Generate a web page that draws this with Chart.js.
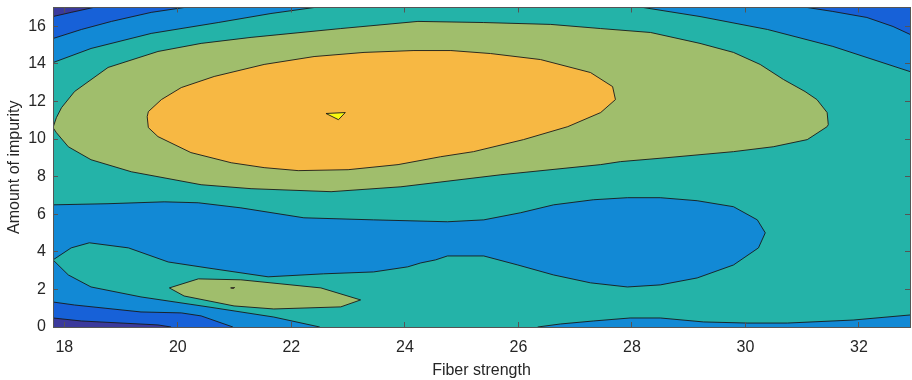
<!DOCTYPE html>
<html>
<head>
<meta charset="utf-8">
<script src="https://cdn.jsdelivr.net/npm/chart.js@4.4.0/dist/chart.umd.min.js"></script>
<style>
  html, body { margin: 0; padding: 0; background: #fff; }
  #cadre { width: 912px; height: 380px; }
</style>
</head>
<body>
<div id="cadre"><canvas id="graphique-contour"></canvas></div>
<script>
// Limites des axes et graduations
const xLimites = [17.8, 32.9];
const yLimites = [0, 17];
const xGraduations = [18, 20, 22, 24, 26, 28, 30, 32];
const yGraduations = [0, 2, 4, 6, 8, 10, 12, 14, 16];

// Contours : [fiber strength, amount of impurity]
// niveau 0 : fond (tout le cadre)
const niveau0 = [[17.8, 0], [32.9, 0], [32.9, 17], [17.8, 17]];

// niveau 1 : tout sauf les deux coins bleu nuit a gauche
const niveau1 = [
  [18.51, 17], [32.9, 17], [32.9, 0], [19.88, 0], [19.65, 0.11], [18.30, 0.32],
  [17.8, 0.48], [17.8, 16.52], [18.12, 16.74]
];

// niveau 2
const niveau2 = [
  [17.8, 15.35], [18.30, 15.83], [18.83, 16.26], [19.53, 16.74], [20.11, 17],
  [31.09, 17], [31.54, 16.79], [32.14, 16.47], [32.60, 15.99], [32.9, 15.57],
  [32.9, 0], [20.97, 0], [20.41, 0.59], [20.06, 0.75], [19.35, 0.80], [18.18, 1.17],
  [17.8, 1.33]
];

// niveau 3 (turquoise) : contourne la bande bleue du milieu
const niveau3 = [
  [17.8, 14.07], [18.47, 14.82], [19.53, 15.62], [20.71, 16.20], [21.64, 16.68], [22.40, 17],
  [28.20, 17], [29.20, 16.52], [30.39, 15.83], [31.54, 14.93], [32.9, 13.59],
  [32.9, 0.64], [31.90, 0.37], [30.74, 0.21], [30.03, 0.21], [29.26, 0.27], [28.50, 0.48],
  [27.97, 0.48], [27.32, 0.32], [26.74, 0.16], [26.34, 0],
  [22.50, 0], [21.69, 0.53], [20.53, 1.07], [19.35, 1.60], [18.47, 2.13], [18.07, 2.77],
  [17.8, 3.57],
  [18.12, 4.21], [18.44, 4.48], [19.13, 4.21], [19.83, 3.46], [20.53, 3.14], [21.59, 2.67],
  [22.57, 2.83], [23.45, 2.93], [24.05, 3.20], [24.28, 3.41], [24.54, 3.57], [24.75, 3.78],
  [25.39, 3.78], [25.99, 3.30], [26.62, 2.77], [27.27, 2.35], [27.92, 2.13], [28.50, 2.24],
  [29.15, 2.61], [29.79, 3.30], [30.23, 4.21], [30.35, 5.01], [30.21, 5.70], [29.79, 6.40],
  [29.15, 6.72], [28.50, 6.88], [27.92, 6.88], [27.32, 6.77], [26.62, 6.50], [26.04, 6.08],
  [25.39, 5.70], [24.75, 5.60], [23.45, 5.70], [22.22, 5.81], [21.11, 6.34], [20.36, 6.61],
  [19.76, 6.66], [18.77, 6.56], [17.8, 6.50]
];

// niveau 4 (vert) : grande ellipse + petit lobe en bas
const niveau4 = [
  [17.8, 10.61], [17.86, 11.14], [17.95, 11.67], [18.18, 12.53], [18.77, 13.81], [19.65, 14.66],
  [20.41, 15.09], [21.29, 15.41], [22.87, 15.88], [24.23, 16.26], [25.39, 16.20], [26.57, 16.10],
  [27.45, 15.88], [28.33, 15.67], [29.20, 15.09], [29.79, 14.61], [30.26, 13.97], [30.67, 13.17],
  [31.05, 12.53], [31.26, 12.10], [31.44, 11.41], [31.46, 10.77], [31.44, 10.66], [31.09, 9.97],
  [30.49, 9.59], [29.79, 9.33], [28.62, 9.01], [27.80, 8.80], [27.45, 8.64], [25.69, 8.10],
  [23.93, 7.46], [22.70, 7.20], [21.29, 7.36], [20.41, 7.57], [19.18, 8.26], [18.47, 8.90],
  [18.07, 9.59], [17.86, 10.34]
];
const niveau4Lobe = [
  [19.85, 2.08], [20.36, 2.56], [21.11, 2.51], [22.52, 2.08], [23.22, 1.44], [22.87, 1.07],
  [21.69, 0.96], [20.99, 1.12], [20.11, 1.65]
];

// niveau 5 (orange)
const niveau5 = [
  [19.46, 11.19], [19.48, 11.46], [19.71, 12.10], [20.06, 12.74], [20.64, 13.33], [21.52, 13.97],
  [22.40, 14.39], [23.28, 14.61], [24.16, 14.71], [24.81, 14.71], [25.51, 14.55], [26.39, 14.23],
  [27.27, 13.54], [27.66, 12.79], [27.71, 12.10], [27.45, 11.41], [26.87, 10.66], [26.09, 9.97],
  [25.21, 9.33], [24.63, 9.06], [23.88, 8.64], [23.00, 8.37], [22.12, 8.32], [21.52, 8.48],
  [20.94, 8.74], [20.23, 9.28], [19.65, 10.13], [19.48, 10.61]
];
const niveau5Point = [[20.93, 2.08], [21.00, 2.10], [20.98, 2.05]];

// niveau 6 (jaune)
const niveau6 = [[22.61, 11.36], [22.95, 11.41], [22.83, 11.03]];

// Couleurs des niveaux (parula)
const couleursNiveaux = ["#3b3a9c", "#1761d8", "#1289d5", "#24b3a8", "#a0be6c", "#f7b843", "#f8f90f"];
const couleurTrait = "#1a1a1a";
const couleurAxe = "#555555";
const couleurTexte = "#262626";
const police = "'Liberation Sans', Arial, sans-serif";

// Un segment posé sur le bord du cadre ne doit pas être tracé
function surBord(a, b) {
  const bordX = a.x === b.x && (a.x <= xLimites[0] || a.x >= xLimites[1]);
  const bordY = a.y === b.y && (a.y <= yLimites[0] || a.y >= yLimites[1]);
  return bordX || bordY;
}

function enPoints(points) {
  return points.concat([points[0]]).map(p => ({ x: p[0], y: p[1] }));
}

// Surface remplie d'un niveau (sans trait, sinon le remplissage est coupé par segment)
function surface(points, niveau) {
  return {
    data: enPoints(points),
    backgroundColor: couleursNiveaux[niveau],
    borderColor: "rgba(0,0,0,0)",
    borderWidth: 0,
    fill: "shape",
    tension: 0,
    pointRadius: 0,
    pointHoverRadius: 0,
    order: 20 - niveau
  };
}

// Ligne de contour noire, par-dessus toutes les surfaces
function contour(points) {
  return {
    data: enPoints(points),
    borderColor: couleurTrait,
    borderWidth: 0.9,
    fill: false,
    tension: 0,
    pointRadius: 0,
    pointHoverRadius: 0,
    order: 1,
    segment: {
      borderColor: ctx => surBord(ctx.p0.parsed, ctx.p1.parsed) ? "rgba(0,0,0,0)" : couleurTrait
    }
  };
}

const niveaux = [
  [niveau1, 1], [niveau2, 2], [niveau3, 3], [niveau4, 4], [niveau4Lobe, 4],
  [niveau5, 5], [niveau5Point, 5], [niveau6, 6]
];

const datasets = [surface(niveau0, 0)];
for (const [pts, n] of niveaux) {
  datasets.push(surface(pts, n));
}
for (const [pts] of niveaux) {
  datasets.push(contour(pts));
}

// Options communes des axes
function axe(position, limites, graduations, taille) {
  const horizontal = position === "bottom" || position === "top";
  return {
    type: "linear",
    position: position,
    min: limites[0],
    max: limites[1],
    afterBuildTicks: s => { s.ticks = graduations.map(v => ({ value: v })); },
    afterFit: s => {
      if (horizontal) { s.height = taille; } else { s.width = taille; }
      s.paddingTop = 0; s.paddingBottom = 0; s.paddingLeft = 0; s.paddingRight = 0;
    },
    grid: { drawOnChartArea: false, tickLength: -5, color: couleurAxe, z: 1 },
    border: { color: couleurAxe, width: 1, z: 1 },
    ticks: { display: false }
  };
}

const axeX = axe("bottom", xLimites, xGraduations, 53);
axeX.ticks = { color: couleurTexte, font: { family: police, size: 16 }, padding: 16, maxRotation: 0, autoSkip: false };
axeX.title = { display: true, text: "Fiber strength", color: couleurTexte, font: { family: police, size: 16 }, padding: { top: 0, bottom: 0 } };

const axeY = axe("left", yLimites, yGraduations, 53);
axeY.ticks = { color: couleurTexte, font: { family: police, size: 16 }, padding: 12, autoSkip: false };
axeY.title = { display: true, text: "Amount of impurity", color: couleurTexte, font: { family: police, size: 16 }, padding: { top: 5, bottom: 0 } };

const config = {
  type: "line",
  data: { datasets: datasets },
  options: {
    animation: false,
    responsive: true,
    maintainAspectRatio: false,
    layout: { padding: 0 },
    plugins: { legend: { display: false }, tooltip: { enabled: false } },
    scales: {
      x: axeX,
      x2: axe("top", xLimites, xGraduations, 7.5),
      y: axeY,
      y2: axe("right", yLimites, yGraduations, 2)
    }
  }
};

new Chart(document.querySelector("#graphique-contour"), config);
</script>
</body>
</html>
